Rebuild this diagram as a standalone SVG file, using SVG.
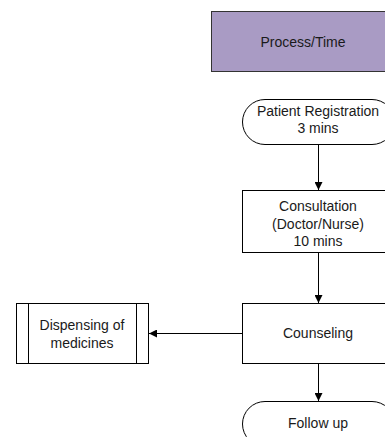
<svg xmlns="http://www.w3.org/2000/svg" width="385" height="437" viewBox="0 0 385 437">
<style>
.s{fill:#fff;stroke:#000;stroke-width:1}
.t{font-family:"Liberation Sans",Arial,sans-serif;font-size:14px;fill:#1a1a1a;text-anchor:middle}
.c{stroke:#000;stroke-width:1;fill:none}
</style>
<defs>
<marker id="a" viewBox="0 0 10 10" refX="10" refY="5" markerWidth="8" markerHeight="8" markerUnits="userSpaceOnUse" orient="auto">
<path d="M0,0 L10,5 L0,10 z" fill="#000"/>
</marker>
</defs>
<rect width="385" height="437" fill="#fff"/>
<g id="header">
<rect x="211.5" y="11.5" width="184" height="60" fill="#a99bc4" stroke="#333" stroke-width="1"/>
<text class="t" x="303" y="47">Process/Time</text>
</g>
<g id="registration">
<rect class="s" x="242.5" y="99.5" width="152" height="45" rx="22.5"/>
<text class="t" x="318" y="116">Patient Registration</text>
<text class="t" x="318" y="133">3 mins</text>
</g>
<g id="consultation">
<rect class="s" x="242.5" y="190.5" width="152" height="62"/>
<text class="t" x="318" y="211">Consultation</text>
<text class="t" x="318" y="229">(Doctor/Nurse)</text>
<text class="t" x="318" y="246">10 mins</text>
</g>
<g id="counseling">
<rect class="s" x="242.5" y="303.5" width="152" height="60"/>
<text class="t" x="318" y="338">Counseling</text>
</g>
<g id="dispensing">
<rect class="s" x="16.5" y="303.5" width="132" height="60"/>
<line class="c" x1="28.5" y1="303.5" x2="28.5" y2="363.5"/>
<line class="c" x1="136.5" y1="303.5" x2="136.5" y2="363.5"/>
<text class="t" x="82" y="330">Dispensing of</text>
<text class="t" x="82" y="348">medicines</text>
</g>
<g id="followup">
<rect class="s" x="242.5" y="401.5" width="152" height="45" rx="22.5"/>
<text class="t" x="318" y="428">Follow up</text>
</g>
<g id="connectors">
<line class="c" x1="318.5" y1="144.5" x2="318.5" y2="190" marker-end="url(#a)"/>
<line class="c" x1="318.5" y1="252.5" x2="318.5" y2="303" marker-end="url(#a)"/>
<line class="c" x1="242.5" y1="333.5" x2="149" y2="333.5" marker-end="url(#a)"/>
<line class="c" x1="318.5" y1="363.5" x2="318.5" y2="401" marker-end="url(#a)"/>
</g>
</svg>
